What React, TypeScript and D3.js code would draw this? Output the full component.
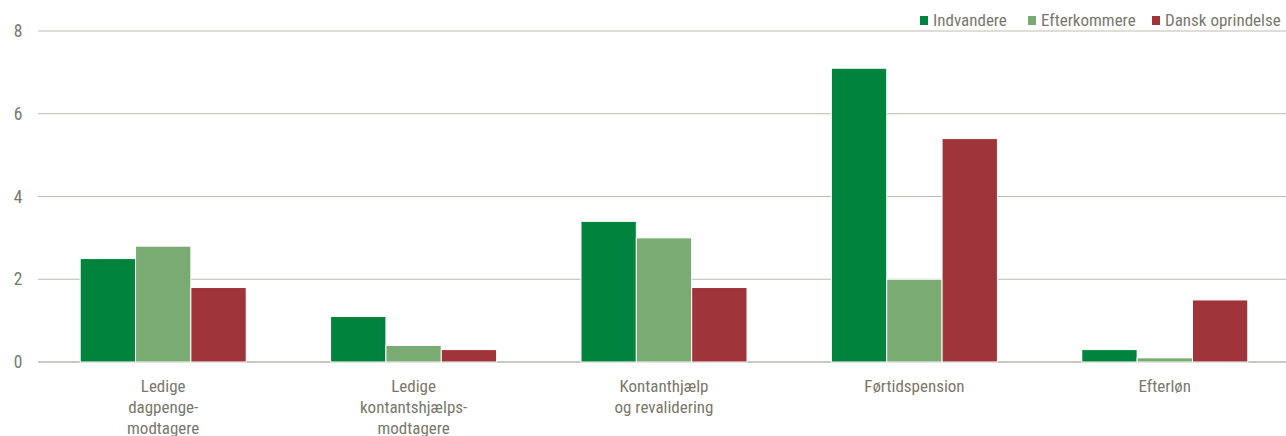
import * as React from 'react';
import * as d3 from 'd3';

const categories: string[][] = [
  ['Ledige', 'dagpenge-', 'modtagere'],
  ['Ledige', 'kontantshjælps-', 'modtagere'],
  ['Kontanthjælp', 'og revalidering'],
  ['Førtidspension'],
  ['Efterløn'],
];
const seriesNames = ['Indvandere', 'Efterkommere', 'Dansk oprindelse'];
const indvandere = [2.5, 1.1, 3.4, 7.1, 0.3];
const efterkommere = [2.8, 0.4, 3.0, 2.0, 0.1];
const danskOprindelse = [1.8, 0.3, 1.8, 5.4, 1.5];
const yTicks = [0, 2, 4, 6, 8];

const colors = ['#00843d', '#79ab72', '#a0343b'];
const font = '"Liberation Sans Narrow", "Arial Narrow", "Roboto Condensed", "Liberation Sans", sans-serif';
const textColor = '#7a786c';

const W = 1286;
const H = 436;
const margin = { top: 31, right: -4, bottom: 74, left: 38 };

const App: React.FC = () => {
  const series = [indvandere, efterkommere, danskOprindelse];
  const innerH = H - margin.top - margin.bottom;
  const x = d3.scaleBand<number>()
    .domain(categories.map((_, i) => i))
    .range([margin.left, W - margin.right])
    .paddingInner(0.337)
    .paddingOuter(0.1685);
  const x1 = d3.scaleBand<number>()
    .domain([0, 1, 2])
    .range([0, x.bandwidth()])
    .padding(0);
  const y = d3.scaleLinear().domain([0, 8]).range([margin.top + innerH, margin.top]);

  const legendX = [920, 1028, 1152];

  return (
    <svg width={W} height={H} style={{ position: 'absolute', left: 0, top: 0, background: '#fff' }}>
      {yTicks.map(t => (
        <g key={t}>
          <line x1={margin.left} x2={W} y1={y(t)} y2={y(t)}
            stroke={t === 0 ? '#c9c8c0' : '#bdbbad'} strokeWidth={t === 0 ? 2 : 1} />
          <text x={18} y={y(t)} dy="0.35em" textAnchor="middle" fontFamily={font} fontSize={17.5} fill={textColor}>{t}</text>
        </g>
      ))}
      {categories.map((c, i) => (
        <g key={i}>
          {series.map((s, j) => (
            <rect key={j}
              x={(x(i) ?? 0) + (x1(j) ?? 0)}
              y={y(s[i])}
              width={x1.bandwidth()}
              height={y(0) - y(s[i])}
              fill={colors[j]}
              stroke="#fff" strokeWidth={1} />
          ))}
          <text x={(x(i) ?? 0) + x.bandwidth() / 2} y={392} textAnchor="middle" fontFamily={font} fontSize={17} fill={textColor}>
            {c.map((line, k) => (
              <tspan key={k} x={(x(i) ?? 0) + x.bandwidth() / 2} dy={k === 0 ? 0 : 21}>{line}</tspan>
            ))}
          </text>
        </g>
      ))}
      {seriesNames.map((n, j) => (
        <g key={n}>
          <rect x={legendX[j]} y={16} width={8} height={9} fill={colors[j]} />
          <text x={legendX[j] + 13} y={20.5} dy="0.35em" fontFamily={font} fontSize={17} fill={textColor}>{n}</text>
        </g>
      ))}
    </svg>
  );
};

export default App;
